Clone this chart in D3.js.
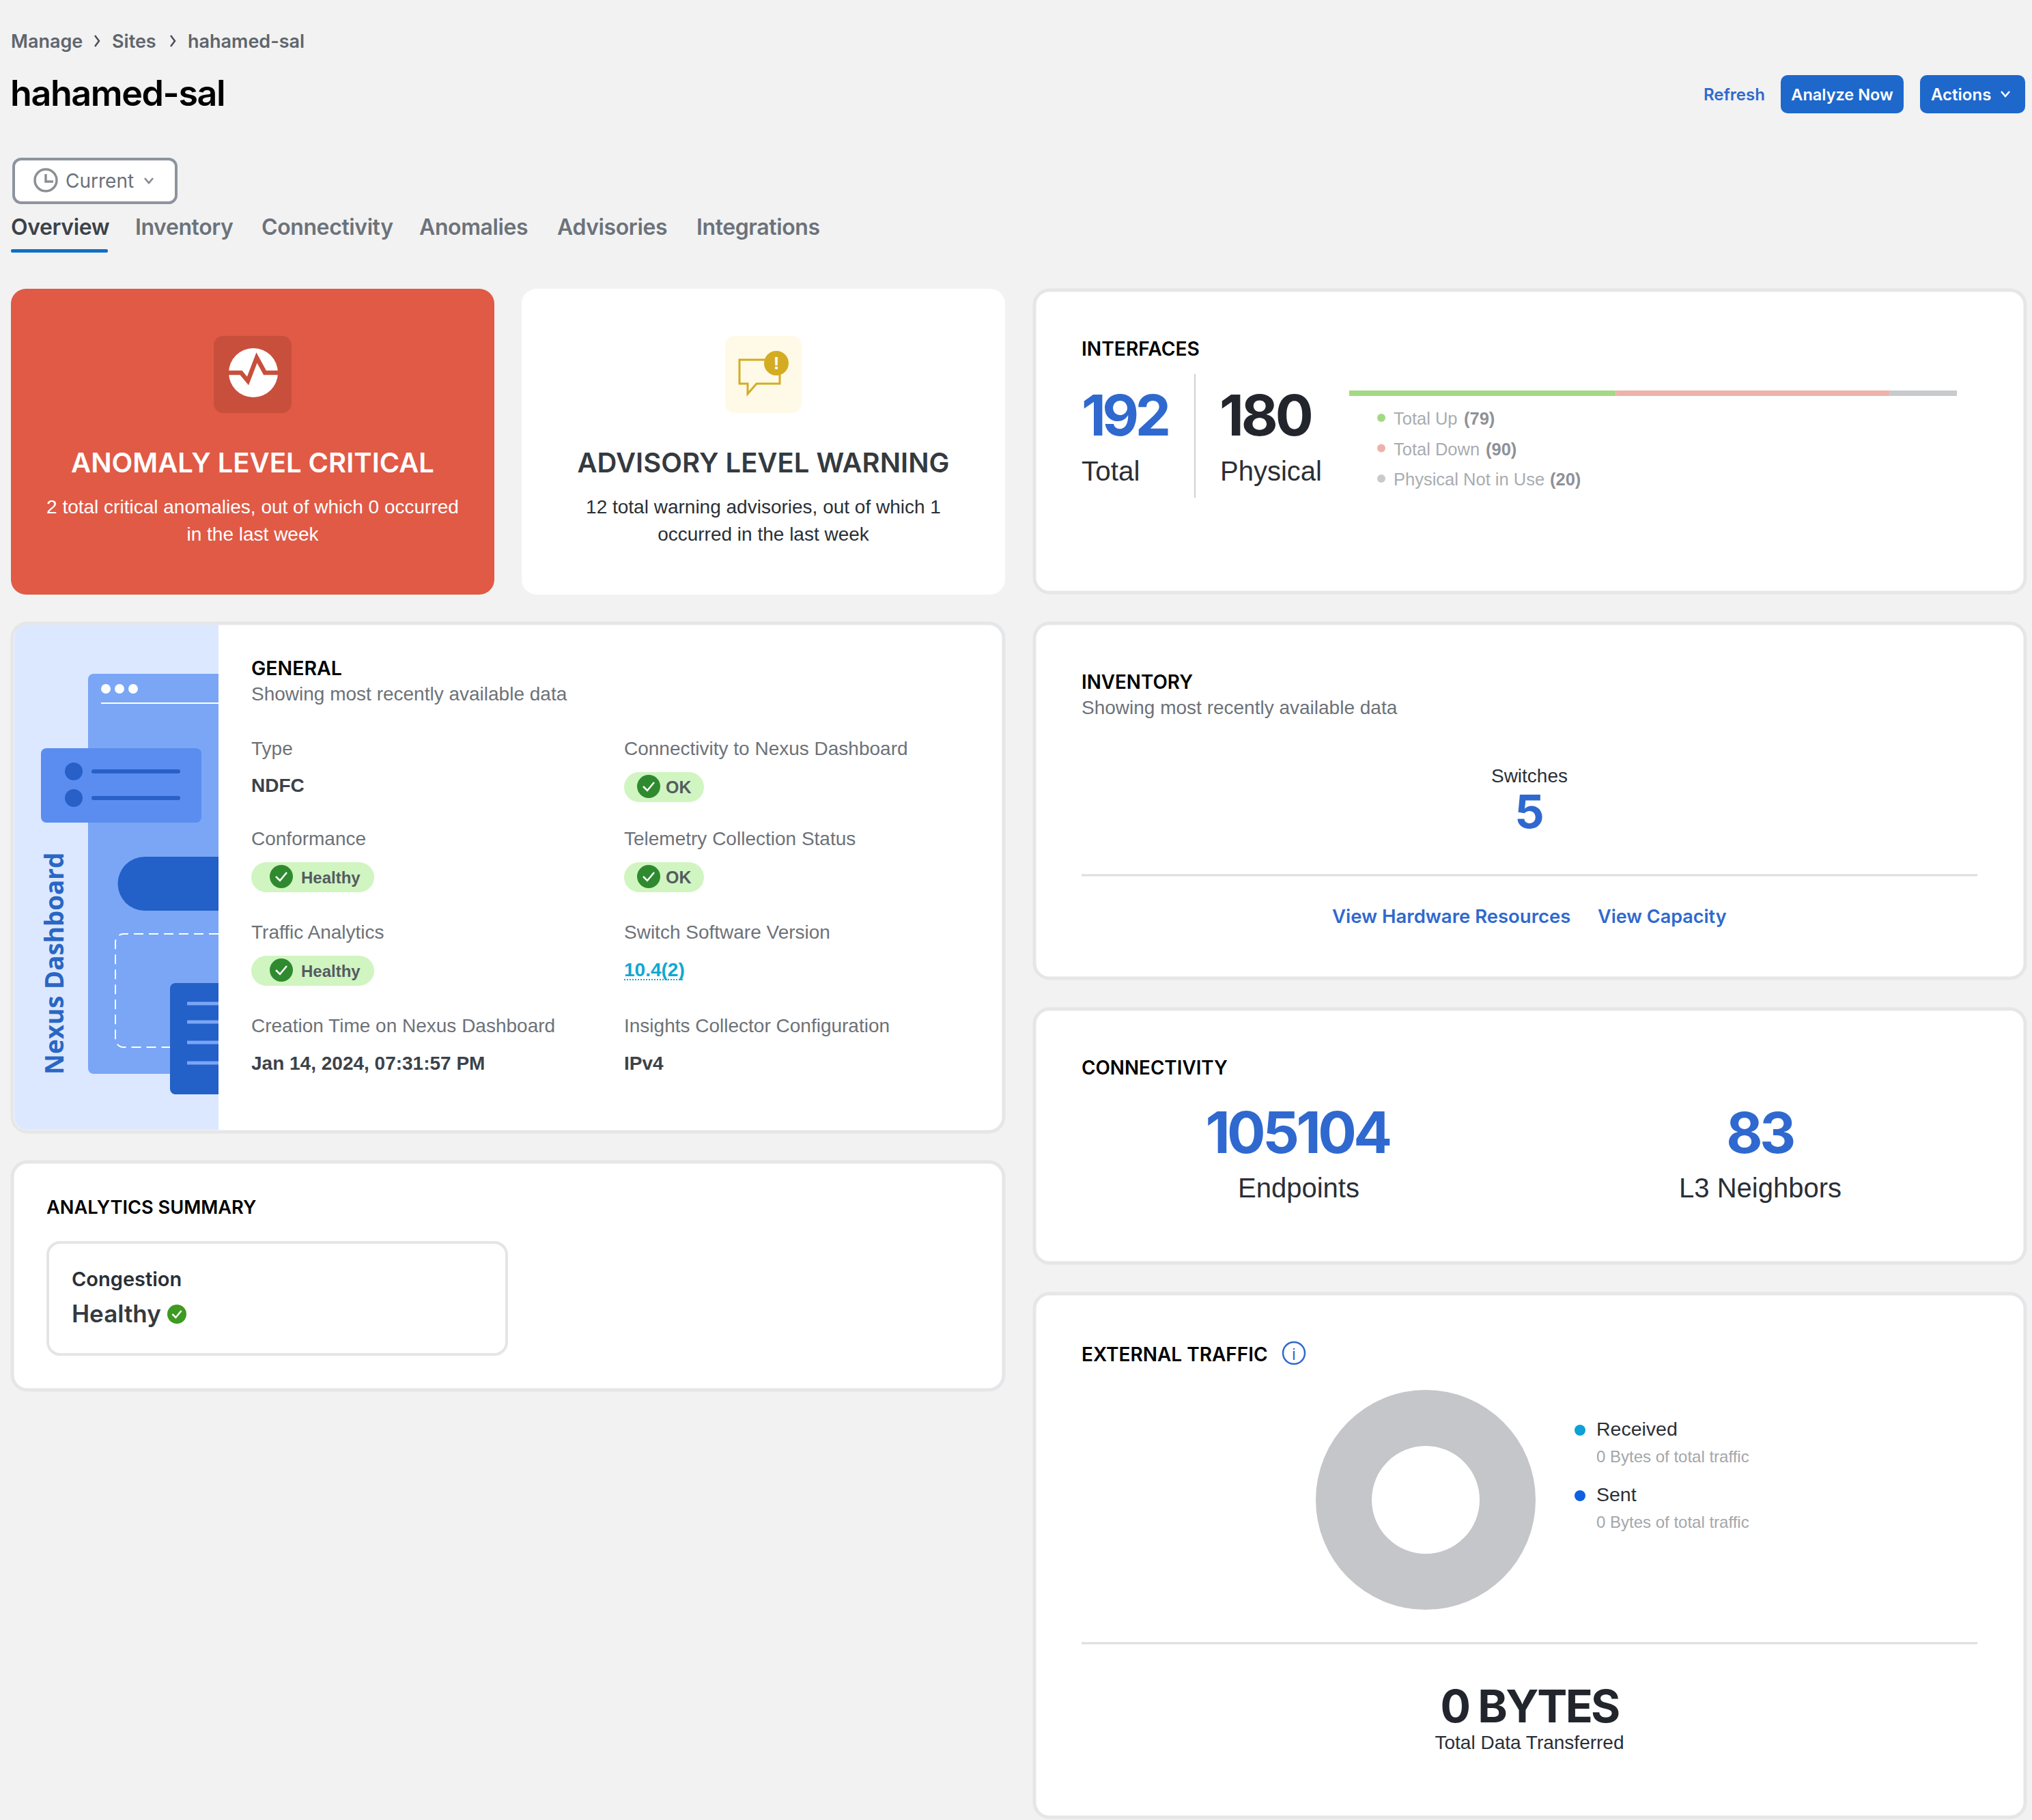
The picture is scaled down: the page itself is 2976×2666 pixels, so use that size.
<!DOCTYPE html>
<html>
<head>
    <title>hahamed-sal</title>
    <script src="https://d3js.org/d3.v7.min.js"></script>
    <style>
        body { margin: 0; background: #f2f2f2; }
        svg { display: block; }
    </style>
</head>
<body>
    <svg width="2976" height="2666" id="svg1"></svg>
</body>
<script>
var crumbs = ['Manage', 'Sites', 'hahamed-sal'];
var tabs = ['Overview', 'Inventory', 'Connectivity', 'Anomalies', 'Advisories', 'Integrations'];

// interface counts as labelled, and the bar lengths as they are drawn in the picture
var ifaceNames = ['Total Up', 'Total Down', 'Physical Not in Use'];
var ifaceCounts = [79, 90, 20];
var ifaceBar = [79, 81, 20];
var ifaceColors = ['#a3d984', '#eeb2aa', '#c9cacc'];
var ifaceTotal = 192;
var ifacePhysical = 180;

var generalLabels = ['Type', 'Connectivity to Nexus Dashboard', 'Conformance', 'Telemetry Collection Status',
    'Traffic Analytics', 'Switch Software Version', 'Creation Time on Nexus Dashboard', 'Insights Collector Configuration'];
var generalValues = ['NDFC', 'OK', 'Healthy', 'OK', 'Healthy', '10.4(2)', 'Jan 14, 2024, 07:31:57 PM', 'IPv4'];
var generalKinds = ['text', 'pill', 'pill', 'pill', 'pill', 'link', 'text', 'text'];

var trafficNames = ['Received', 'Sent'];
var trafficBytes = [0, 0];
var trafficColors = ['#0ea0d6', '#1060e0'];

var svg = d3.select('#svg1');
var BODY = "'Liberation Sans', sans-serif";
var HEAD = "Inter, sans-serif";
var BLUE = '#2f69cf';
var GREY = '#6d7278';

function txt(x, y, s, size, weight, color, anchor, font) {
    return svg.append('text')
        .attr('x', x).attr('y', y)
        .attr('font-family', font || BODY)
        .attr('font-size', size)
        .attr('font-weight', weight)
        .attr('fill', color)
        .attr('text-anchor', anchor || 'start')
        .text(s);
}

function card(x, y, w, h, fill, stroke) {
    svg.append('rect')
        .attr('x', x).attr('y', y).attr('width', w).attr('height', h)
        .attr('rx', 22)
        .attr('fill', fill || '#fff')
        .attr('stroke', stroke === undefined ? '#e5e6e8' : stroke)
        .attr('stroke-width', 5);
}

function chevron(x, y, color) {
    svg.append('path')
        .attr('d', 'M' + (x - 6) + ',' + (y - 3) + 'L' + x + ',' + (y + 4) + 'L' + (x + 6) + ',' + (y - 3))
        .attr('fill', 'none').attr('stroke', color).attr('stroke-width', 2.5);
}

function check(x, y, r, color) {
    svg.append('circle').attr('cx', x).attr('cy', y).attr('r', r).attr('fill', color);
    var k = r / 17;
    svg.append('path')
        .attr('d', 'M' + (x - 8 * k) + ',' + y + 'L' + (x - 2 * k) + ',' + (y + 6 * k) + 'L' + (x + 8 * k) + ',' + (y - 6 * k))
        .attr('fill', 'none').attr('stroke', '#fff').attr('stroke-width', 2.5);
}

// header
var crumbX = [16, 164, 275];
crumbs.forEach(function(d, i) {
    txt(crumbX[i], 70, d, 27, 600, '#5f656d', 'start', HEAD);
    if (i < 2) {
        var cx = crumbX[i + 1] - 22;
        svg.append('path')
            .attr('d', 'M' + (cx - 3) + ',52L' + (cx + 3) + ',60L' + (cx - 3) + ',68')
            .attr('fill', 'none').attr('stroke', '#4a4f55').attr('stroke-width', 2.5);
    }
});
txt(15, 155, 'hahamed-sal', 52, 600, '#000', 'start', HEAD).attr('letter-spacing', -1.4);

txt(2495, 147, 'Refresh', 24, 600, BLUE, 'start', HEAD);
svg.append('rect').attr('x', 2608).attr('y', 110).attr('width', 180).attr('height', 56).attr('rx', 10).attr('fill', '#1e68cc');
txt(2698, 147, 'Analyze Now', 23.5, 600, '#fff', 'middle', HEAD);
svg.append('rect').attr('x', 2812).attr('y', 110).attr('width', 154).attr('height', 56).attr('rx', 10).attr('fill', '#1e68cc');
txt(2828, 147, 'Actions', 24, 600, '#fff', 'start', HEAD);
chevron(2937, 137, '#fff');

svg.append('rect').attr('x', 20).attr('y', 233).attr('width', 238).attr('height', 64).attr('rx', 11)
    .attr('fill', '#fff').attr('stroke', '#8d949e').attr('stroke-width', 4);
svg.append('circle').attr('cx', 67).attr('cy', 264).attr('r', 16).attr('fill', 'none').attr('stroke', '#8d8f91').attr('stroke-width', 3.5);
svg.append('path').attr('d', 'M67,255V266H78').attr('fill', 'none').attr('stroke', '#8d8f91').attr('stroke-width', 3.5);
txt(96, 275, 'Current', 28, 400, '#6b7078', 'start', HEAD);
chevron(218, 264, '#83878d');

var tabX = [16, 198, 383, 614, 816, 1020];
tabs.forEach(function(d, i) {
    txt(tabX[i], 344, d, 32, 600, i === 0 ? '#3c4249' : '#6c727a', 'start', HEAD).attr('letter-spacing', -0.4);
});
svg.append('rect').attr('x', 16).attr('y', 365).attr('width', 142).attr('height', 5).attr('rx', 2).attr('fill', '#0f6fc6');

// anomaly card
card(16, 423, 708, 448, '#e05a46', null);
svg.append('rect').attr('x', 313).attr('y', 492).attr('width', 114).attr('height', 113).attr('rx', 14).attr('fill', '#c84f3c');
svg.append('circle').attr('cx', 371).attr('cy', 546).attr('r', 36).attr('fill', '#fff');
svg.append('path').attr('d', 'M333,546H353L363,558L376,524L388,546H409')
    .attr('fill', 'none').attr('stroke', '#c84f3c').attr('stroke-width', 6.5);
txt(370, 692, 'ANOMALY LEVEL CRITICAL', 40, 600, '#fff', 'middle', HEAD);
txt(370, 752, '2 total critical anomalies, out of which 0 occurred', 28, 400, '#fff', 'middle');
txt(370, 792, 'in the last week', 28, 400, '#fff', 'middle');

// advisory card
card(764, 423, 708, 448, '#fff', null);
svg.append('rect').attr('x', 1062).attr('y', 492).attr('width', 112).attr('height', 113).attr('rx', 14).attr('fill', '#fffae8');
svg.append('path').attr('d', 'M1125,527H1083V562H1095V577L1108,562H1142V545')
    .attr('fill', 'none').attr('stroke', '#d4ac22').attr('stroke-width', 3);
svg.append('circle').attr('cx', 1137).attr('cy', 532).attr('r', 18).attr('fill', '#d4ac22');
txt(1137, 541, '!', 24, 700, '#fff', 'middle', HEAD);
txt(1118, 692, 'ADVISORY LEVEL WARNING', 40, 600, '#343a40', 'middle', HEAD);
txt(1118, 752, '12 total warning advisories, out of which 1', 28, 400, '#2a2f36', 'middle');
txt(1118, 792, 'occurred in the last week', 28, 400, '#2a2f36', 'middle');

// interfaces card
card(1515, 425, 1451, 443);
txt(1584, 521, 'INTERFACES', 28.2, 600, '#000', 'start', HEAD);
txt(1584, 638, ifaceTotal, 83, 700, BLUE, 'start', HEAD).attr('letter-spacing', -5.5);
txt(1584, 704, 'Total', 40.5, 400, '#2a2f36');
svg.append('line').attr('x1', 1750).attr('x2', 1750).attr('y1', 548).attr('y2', 729).attr('stroke', '#cfd1d4').attr('stroke-width', 2);
txt(1786, 638, ifacePhysical, 83, 700, '#22262c', 'start', HEAD).attr('letter-spacing', -4);
txt(1787, 704, 'Physical', 40, 400, '#2a2f36');

var barX = d3.scaleLinear().domain([0, d3.sum(ifaceBar)]).range([1976, 2866]);
var barStack = d3.stack().keys(ifaceNames)([Object.fromEntries(ifaceNames.map(function(n, i) { return [n, ifaceBar[i]]; }))]);
svg.append('g').selectAll('rect')
    .data(barStack)
    .enter()
    .append('rect')
    .attr('x', function(d) { return barX(d[0][0]); })
    .attr('width', function(d) { return barX(d[0][1]) - barX(d[0][0]); })
    .attr('y', 572).attr('height', 8)
    .attr('fill', function(d, i) { return ifaceColors[i]; });

var ifaceY = d3.scalePoint().domain(ifaceNames).range([612, 701]);
var countX = [2144, 2176, 2270];
ifaceNames.forEach(function(d, i) {
    svg.append('circle').attr('cx', 2023).attr('cy', ifaceY(d)).attr('r', 6).attr('fill', ifaceColors[i]);
    txt(2041, ifaceY(d) + 10, d, 25.5, 400, '#a9acb1');
    txt(countX[i], ifaceY(d) + 10, '(' + ifaceCounts[i] + ')', 25.5, 700, '#8e9196');
});

// general card
card(18, 913, 1452, 745);
svg.append('path').attr('d', 'M320,915H40A19,19 0 0 0 21,934V1636A19,19 0 0 0 40,1655H320Z').attr('fill', '#dce8ff');
svg.append('path').attr('d', 'M320,987H137A8,8 0 0 0 129,995V1565A8,8 0 0 0 137,1573H320Z').attr('fill', '#7aa6f5');
[155, 175, 195].forEach(function(x) {
    svg.append('circle').attr('cx', x).attr('cy', 1009).attr('r', 7).attr('fill', '#fff');
});
svg.append('line').attr('x1', 148).attr('x2', 320).attr('y1', 1030).attr('y2', 1030).attr('stroke', '#fff').attr('stroke-width', 2);
svg.append('rect').attr('x', 60).attr('y', 1096).attr('width', 235).attr('height', 109).attr('rx', 8).attr('fill', '#5a8def');
[1130, 1169].forEach(function(y) {
    svg.append('circle').attr('cx', 108).attr('cy', y).attr('r', 13).attr('fill', '#2860c8');
    svg.append('line').attr('x1', 137).attr('x2', 261).attr('y1', y).attr('y2', y).attr('stroke', '#2860c8').attr('stroke-width', 6).attr('stroke-linecap', 'round');
});
svg.append('path').attr('d', 'M320,1255H212A39.5,39.5 0 0 0 212,1334H320Z').attr('fill', '#2360c8');
svg.append('path').attr('d', 'M320,1368H181A12,12 0 0 0 169,1380V1522A12,12 0 0 0 181,1534H320')
    .attr('fill', 'none').attr('stroke', '#fff').attr('stroke-width', 2).attr('stroke-dasharray', '14 8');
svg.append('path').attr('d', 'M320,1440H257A8,8 0 0 0 249,1448V1595A8,8 0 0 0 257,1603H320Z').attr('fill', '#2360c8');
[1470, 1497, 1527, 1557].forEach(function(y) {
    svg.append('line').attr('x1', 274).attr('x2', 320).attr('y1', y).attr('y2', y).attr('stroke', '#7aa6f5').attr('stroke-width', 5);
});
txt(0, 0, 'Nexus Dashboard', 36.8, 700, '#2a66c4', 'start', "'Open Sans', sans-serif")
    .attr('transform', 'translate(93,1574) rotate(-90)');

txt(368, 989, 'GENERAL', 28.5, 600, '#000', 'start', HEAD);
txt(368, 1026, 'Showing most recently available data', 28, 400, GREY);

var colX = [368, 914];
var labelY = [1106, 1238, 1375, 1512];
var valueY = [1160, 1292, 1429, 1567];
generalLabels.forEach(function(d, i) {
    var x = colX[i % 2], row = Math.floor(i / 2);
    txt(x, labelY[row], d, 28, 400, GREY);
    var v = generalValues[i], kind = generalKinds[i];
    if (kind === 'text') {
        txt(x, valueY[row], v, 28, 700, '#3c4249');
    } else if (kind === 'link') {
        txt(x, valueY[row] + 1, v, 28, 700, '#10a8d0');
        svg.append('line').attr('x1', x).attr('x2', x + 88).attr('y1', valueY[row] + 6).attr('y2', valueY[row] + 6)
            .attr('stroke', '#10a8d0').attr('stroke-width', 2).attr('stroke-dasharray', '2 2');
    } else {
        var w = v === 'OK' ? 117 : 180;
        var cy = valueY[row] - 7;
        svg.append('rect').attr('x', x).attr('y', cy - 22).attr('width', w).attr('height', 44).attr('rx', 22).attr('fill', '#d0f5c1');
        var ok = v === 'OK';
        check(x + (ok ? 36 : 44), cy - 1, 17, '#2f8a2f');
        txt(x + (ok ? 61 : 73), cy + 9, v, ok ? 25 : 24, 700, '#555b62');
    }
});

// analytics card
card(18, 1702, 1452, 334);
txt(68, 1778, 'ANALYTICS SUMMARY', 27.2, 600, '#000', 'start', HEAD);
svg.append('rect').attr('x', 70).attr('y', 1820).attr('width', 672).attr('height', 164).attr('rx', 18)
    .attr('fill', '#fff').attr('stroke', '#e3e5e7').attr('stroke-width', 4);
txt(105, 1884, 'Congestion', 29, 600, '#2a2f36', 'start', HEAD);
txt(105, 1937, 'Healthy', 35, 600, '#343a40', 'start', HEAD);
check(259, 1925, 14, '#3d9a22');

// inventory card
card(1515, 913, 1451, 520);
txt(1584, 1009, 'INVENTORY', 27.8, 600, '#000', 'start', HEAD);
txt(1584, 1046, 'Showing most recently available data', 28, 400, GREY);
txt(2240, 1146, 'Switches', 28, 400, '#2a2f36', 'middle');
txt(2240, 1213, 5, 68, 700, BLUE, 'middle', HEAD);
svg.append('line').attr('x1', 1584).attr('x2', 2896).attr('y1', 1282).attr('y2', 1282).attr('stroke', '#dcdde0').attr('stroke-width', 3);
txt(1951, 1352, 'View Hardware Resources', 27.5, 600, BLUE, 'start', HEAD);
txt(2340, 1352, 'View Capacity', 27, 600, BLUE, 'start', HEAD);

// connectivity card
card(1515, 1478, 1451, 372);
txt(1584, 1574, 'CONNECTIVITY', 27.8, 600, '#000', 'start', HEAD);
txt(1900, 1689, '105104', 84, 700, BLUE, 'middle', HEAD).attr('letter-spacing', -4.5);
txt(1902, 1754, 'Endpoints', 40, 400, '#2a2f36', 'middle');
txt(2577, 1689, '83', 82, 700, BLUE, 'middle', HEAD).attr('letter-spacing', -4.5);
txt(2578, 1754, 'L3 Neighbors', 40, 400, '#2a2f36', 'middle');

// external traffic card
card(1515, 1895, 1451, 767);
txt(1584, 1994, 'EXTERNAL TRAFFIC', 28, 600, '#000', 'start', HEAD);
svg.append('circle').attr('cx', 1895).attr('cy', 1982).attr('r', 16).attr('fill', 'none').attr('stroke', BLUE).attr('stroke-width', 2.5);
txt(1895, 1992, 'i', 24, 400, BLUE, 'middle');

// nothing was transferred, so the pie falls back to a single grey ring
var pieValues = d3.sum(trafficBytes) > 0 ? trafficBytes : [1];
var arc = d3.arc().innerRadius(79).outerRadius(161);
svg.append('g')
    .attr('transform', 'translate(2088,2197)')
    .selectAll('path')
    .data(d3.pie().sort(null)(pieValues))
    .enter()
    .append('path')
    .attr('d', arc)
    .attr('fill', function(d, i) { return d3.sum(trafficBytes) > 0 ? trafficColors[i] : '#c5c6ca'; });

var legendY = d3.scalePoint().domain(trafficNames).range([2095, 2191]);
trafficNames.forEach(function(d, i) {
    svg.append('circle').attr('cx', 2314).attr('cy', legendY(d)).attr('r', 8).attr('fill', trafficColors[i]);
    txt(2338, legendY(d) + 8, d, 28.5, 400, '#2a2f36');
    txt(2338, legendY(d) + 47, trafficBytes[i] + ' Bytes of total traffic', 24, 400, '#a4a6aa');
});
svg.append('line').attr('x1', 1584).attr('x2', 2896).attr('y1', 2407).attr('y2', 2407).attr('stroke', '#dcdde0').attr('stroke-width', 3);
txt(2240, 2523, d3.sum(trafficBytes) + ' BYTES', 66, 700, '#22262c', 'middle', HEAD).attr('letter-spacing', -2.7);
txt(2240, 2562, 'Total Data Transferred', 28, 400, '#2a2f36', 'middle');
</script>
</html>
